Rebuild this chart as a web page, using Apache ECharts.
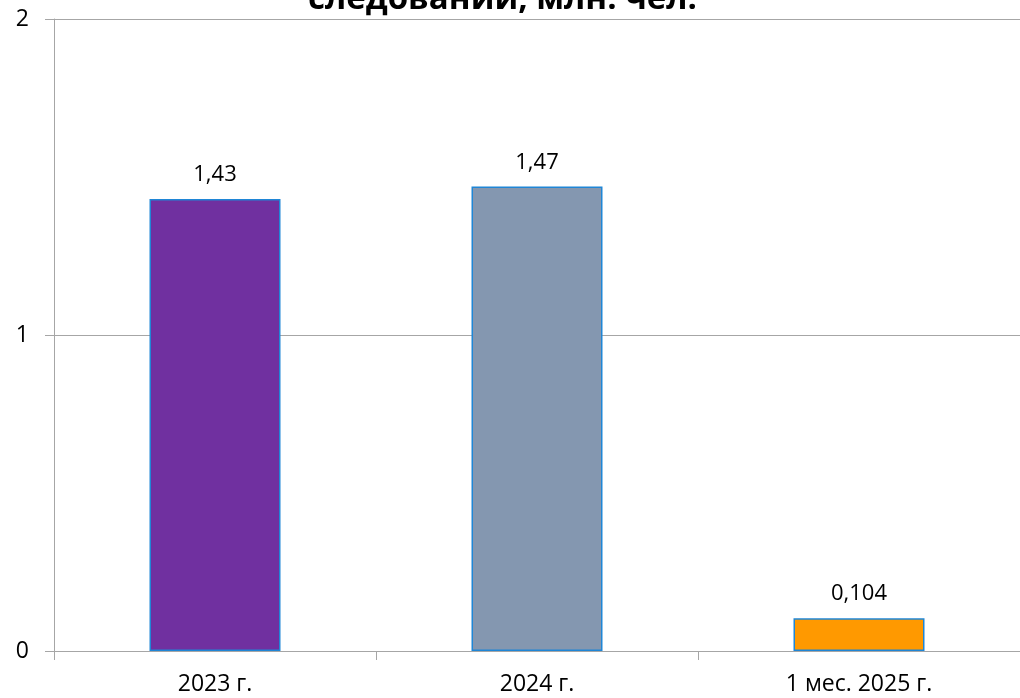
<!DOCTYPE html>
<html><head><meta charset="utf-8">
<script src="https://cdn.jsdelivr.net/npm/echarts@6/dist/echarts.min.js"></script>
<style>html,body{margin:0;padding:0;background:#fff}#c{width:1020px;height:698px}</style>
</head><body><div id="c"></div>
<script>
const categories = ['2023 г.', '2024 г.', '1 мес. 2025 г.'];
const values = [1.43, 1.47, 0.104];
const barColors = ['#7030A0', '#8497B0', '#FF9900'];
const labels = ['1,43', '1,47', '0,104'];
const titleText = 'следований, млн. чел.';

const chart = echarts.init(document.getElementById('c'), null, {renderer: 'canvas'});
const font = 'Open Sans, Noto Sans, sans-serif';
chart.setOption({
  animation: false,
  title: {text: titleText, left: 303, top: -22,
    textStyle: {fontFamily: font, fontWeight: 'bold', fontSize: 33, color: '#000'}},
  grid: {left: 54, right: -2, top: 19, bottom: 47, containLabel: false},
  xAxis: {type: 'category', data: categories,
    axisLine: {lineStyle: {color: '#A6A6A6', width: 1}},
    axisTick: {show: true, length: 9, alignWithLabel: false, lineStyle: {color: '#A6A6A6'}},
    axisLabel: {fontFamily: font, fontSize: 23, color: '#000', margin: 22}},
  yAxis: {type: 'value', min: 0, max: 2, interval: 1,
    axisLine: {show: true, lineStyle: {color: '#A6A6A6'}},
    axisTick: {show: true, length: 9, lineStyle: {color: '#A6A6A6'}},
    splitLine: {lineStyle: {color: '#A6A6A6'}},
    axisLabel: {fontFamily: font, fontSize: 23, color: '#000', margin: 25}},
  series: [{type: 'bar', barWidth: 131,
    data: values.map((v, i) => ({value: v, itemStyle: {color: barColors[i]}})),
    itemStyle: {borderColor: '#1F86D6', borderWidth: 1.5},
    label: {show: true, position: 'top', distance: 13, fontFamily: font, fontSize: 22, color: '#000',
      formatter: p => labels[p.dataIndex]}}]
});
</script></body></html>
